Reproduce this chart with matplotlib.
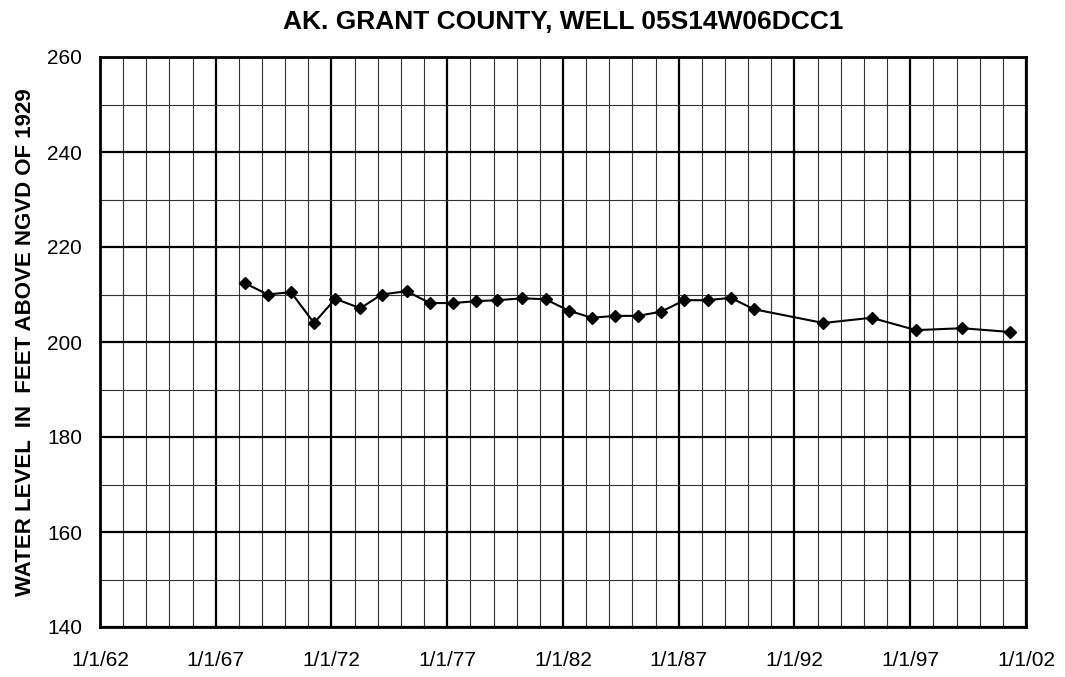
import datetime as dt
import matplotlib
matplotlib.use("Agg")
import matplotlib.pyplot as plt
import matplotlib.dates as mdates

plt.rcParams['font.family'] = ['Liberation Sans', 'DejaVu Sans']

# measurement dates (year, month) and water levels
dates = [(1968, 4), (1969, 4), (1970, 4), (1971, 4), (1972, 3), (1973, 4),
         (1974, 3), (1975, 4), (1976, 4), (1977, 4), (1978, 4), (1979, 3),
         (1980, 4), (1981, 4), (1982, 4), (1983, 4), (1984, 4), (1985, 4),
         (1986, 4), (1987, 4), (1988, 4), (1989, 4), (1990, 4), (1993, 4),
         (1995, 5), (1997, 4), (1999, 4), (2001, 5)]
levels = [212.4, 210.0, 210.5, 204.0, 209.1, 207.1, 210.0, 210.7, 208.2,
          208.2, 208.6, 208.8, 209.2, 209.0, 206.6, 205.1, 205.5, 205.5,
          206.4, 208.8, 208.8, 209.3, 206.9, 204.0, 205.1, 202.5, 202.9, 202.1]
major_years = list(range(1962, 2003, 5))

x = [dt.datetime(y, m, 1) for y, m in dates]

fig = plt.figure(figsize=(10.65, 6.77), dpi=100)
ax = fig.add_axes([100 / 1065, 1 - 627 / 677, 926 / 1065, 570 / 677])

ax.plot(x, levels, color='black', lw=1.5, marker='D', ms=6.5, zorder=3)

ax.set_xlim(dt.datetime(1962, 1, 1), dt.datetime(2002, 1, 1))
ax.set_ylim(140, 260)

ax.set_xticks([dt.datetime(y, 1, 1) for y in major_years])
ax.set_xticks([dt.datetime(y, 1, 1) for y in range(1962, 2003)], minor=True)
ax.xaxis.set_major_formatter(mdates.DateFormatter('%-m/%-d/%y'))
ax.set_yticks(range(140, 261, 20))
ax.set_yticks(range(150, 260, 20), minor=True)

ax.grid(which='major', color='black', lw=1.6)
ax.grid(which='minor', color='#333333', lw=0.8)
ax.set_axisbelow(True)
for s in ax.spines.values():
    s.set_linewidth(2)

ax.tick_params(which='both', length=0)
ax.tick_params(axis='x', labelsize=15, pad=17)
ax.tick_params(axis='y', labelsize=15, pad=13)

ax.set_title('AK. GRANT COUNTY, WELL 05S14W06DCC1', fontsize=19, fontweight='bold', pad=20)
ax.set_ylabel('WATER LEVEL  IN  FEET ABOVE NGVD OF 1929', fontsize=16, fontweight='bold', labelpad=8)

fig.savefig('out.png', dpi=100)
